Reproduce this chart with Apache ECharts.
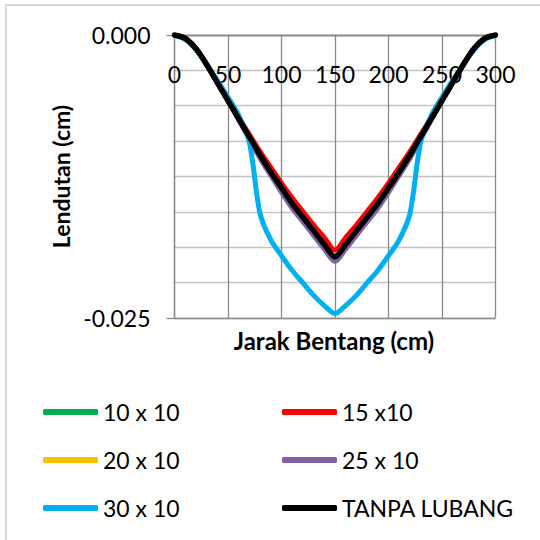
<!DOCTYPE html>
<html><head><meta charset="utf-8">
<script src="https://cdn.jsdelivr.net/npm/echarts@6/dist/echarts.min.js"></script>
<style>html,body{margin:0;padding:0;background:#fff}#c{width:540px;height:540px}</style>
</head><body><div id="c"></div>
<script>
const xs = [0,10,20,30,40,50,60,70,80,90,100,110,120,130,140,150,160,170,180,190,200,210,220,230,240,250,260,270,280,290,300];
const s10x10 = [0,-0.0003,-0.0012,-0.0026,-0.0042,-0.0058,-0.0074,-0.0090,-0.0106,-0.0121,-0.0135,-0.0149,-0.0161,-0.0173,-0.0185,-0.0196,-0.0185,-0.0173,-0.0161,-0.0149,-0.0135,-0.0121,-0.0106,-0.0090,-0.0074,-0.0058,-0.0042,-0.0026,-0.0012,-0.0003,0];
const s15x10 = [0,-0.0003,-0.0012,-0.0026,-0.0041,-0.0057,-0.0073,-0.0088,-0.0103,-0.0117,-0.0131,-0.0144,-0.0156,-0.0168,-0.0179,-0.0190,-0.0179,-0.0168,-0.0156,-0.0144,-0.0131,-0.0117,-0.0103,-0.0088,-0.0073,-0.0057,-0.0041,-0.0026,-0.0012,-0.0003,0];
const s20x10 = [0,-0.0003,-0.0012,-0.0026,-0.0042,-0.0058,-0.0074,-0.0090,-0.0106,-0.0121,-0.0135,-0.0149,-0.0161,-0.0173,-0.0185,-0.0196,-0.0185,-0.0173,-0.0161,-0.0149,-0.0135,-0.0121,-0.0106,-0.0090,-0.0074,-0.0058,-0.0042,-0.0026,-0.0012,-0.0003,0];
const s25x10 = [0,-0.0003,-0.0012,-0.0026,-0.0042,-0.0058,-0.0075,-0.0092,-0.0109,-0.0124,-0.0139,-0.0153,-0.0165,-0.0177,-0.0189,-0.0200,-0.0189,-0.0177,-0.0165,-0.0153,-0.0139,-0.0124,-0.0109,-0.0092,-0.0075,-0.0058,-0.0042,-0.0026,-0.0012,-0.0003,0];
const s30x10 = [0,-0.0004,-0.0013,-0.0026,-0.0040,-0.0055,-0.0071,-0.0095,-0.0158,-0.0181,-0.0195,-0.0208,-0.0219,-0.0230,-0.0239,-0.0246,-0.0239,-0.0230,-0.0219,-0.0208,-0.0195,-0.0181,-0.0158,-0.0095,-0.0071,-0.0055,-0.0040,-0.0026,-0.0013,-0.0004,0];
const sTanpa = [0,-0.0003,-0.0012,-0.0026,-0.0042,-0.0058,-0.0074,-0.0090,-0.0106,-0.0121,-0.0135,-0.0149,-0.0161,-0.0173,-0.0185,-0.0196,-0.0185,-0.0173,-0.0161,-0.0149,-0.0135,-0.0121,-0.0106,-0.0090,-0.0074,-0.0058,-0.0042,-0.0026,-0.0012,-0.0003,0];
const seriesNames = ['10 x 10','15 x10','20 x 10','25 x 10','30 x 10','TANPA LUBANG'];
const seriesColors = ['#00B050','#FF0000','#FFC000','#8064A2','#00B0F0','#000000'];
const seriesData = [s10x10,s15x10,s20x10,s25x10,s30x10,sTanpa];
const yTickLabels = ['-0.025','0.000'];
const xTitle = 'Jarak Bentang (cm)';
const yTitle = 'Lendutan (cm)';

const FONT = 'Lato';
const chart = echarts.init(document.getElementById('c'), null, {renderer:'svg'});
const series = seriesNames.map((n,i)=>({
  name:n, type:'line', xAxisIndex:0, yAxisIndex:0,
  data: xs.map((x,j)=>[x, seriesData[i][j]]),
  showSymbol:false, symbol:'none', smooth:0.3,
  lineStyle:{color:seriesColors[i], width:(i===5?5.5:5), cap:'round', join:'round'},
  itemStyle:{color:seriesColors[i]}, z: 2+i
}));
const legendCommon = {orient:'vertical', top:400, padding:0,
  itemWidth:55, itemHeight:6, itemGap:24, icon:'roundRect',
  textStyle:{color:'#000', fontFamily:FONT, fontSize:23, lineHeight:24}};
chart.setOption({
  animation:false,
  backgroundColor:'#fff',
  grid:{left:174.5, right:44.5, top:35, bottom:222, containLabel:false},
  xAxis:[{type:'value', position:'top', min:0, max:300, interval:50,
    axisLine:{show:true, onZero:false, lineStyle:{color:'#898989', width:1.3}},
    axisTick:{show:false},
    axisLabel:{inside:true, margin:27, color:'#000', fontFamily:FONT, fontSize:23, verticalAlign:'top'},
    splitLine:{show:true, lineStyle:{color:'#898989', width:1.3}}
  }],
  yAxis:[
    {type:'value', min:-0.025, max:0, interval:0.003125,
     axisLine:{show:false}, axisTick:{show:false}, axisLabel:{show:false},
     splitLine:{show:true, lineStyle:{color:'#c4c4c4', width:1.3}}},
    {type:'value', min:-0.025, max:0, interval:0.025, position:'left',
     axisLine:{show:true, onZero:false, lineStyle:{color:'#898989', width:1.3}},
     axisTick:{show:true, length:8, lineStyle:{color:'#898989', width:1.3}},
     axisLabel:{margin:24, color:'#000', fontFamily:FONT, fontSize:23,
       formatter:(v)=> v===0 ? yTickLabels[1] : yTickLabels[0]},
     splitLine:{show:true, lineStyle:{color:'#898989', width:1.3}},
     name:yTitle, nameLocation:'middle', nameGap:100, nameRotate:90,
     nameTextStyle:{color:'#000', fontFamily:FONT, fontSize:23, fontWeight:'bold'}}
  ],
  legend:[
    Object.assign({data:[seriesNames[0],seriesNames[2],seriesNames[4]], left:43}, legendCommon),
    Object.assign({data:[seriesNames[1],seriesNames[3],seriesNames[5]], left:282}, legendCommon)
  ],
  graphic:[
    {type:'text', x:334, y:340, style:{text:xTitle, fill:'#000', font:'bold 24px '+FONT, textAlign:'center', textVerticalAlign:'middle'}},
    {type:'rect', shape:{x:6, y:5, width:560, height:560}, style:{fill:'none', stroke:'#d9d9d9', lineWidth:2}, silent:true}
  ],
  series: series
});
</script></body></html>
